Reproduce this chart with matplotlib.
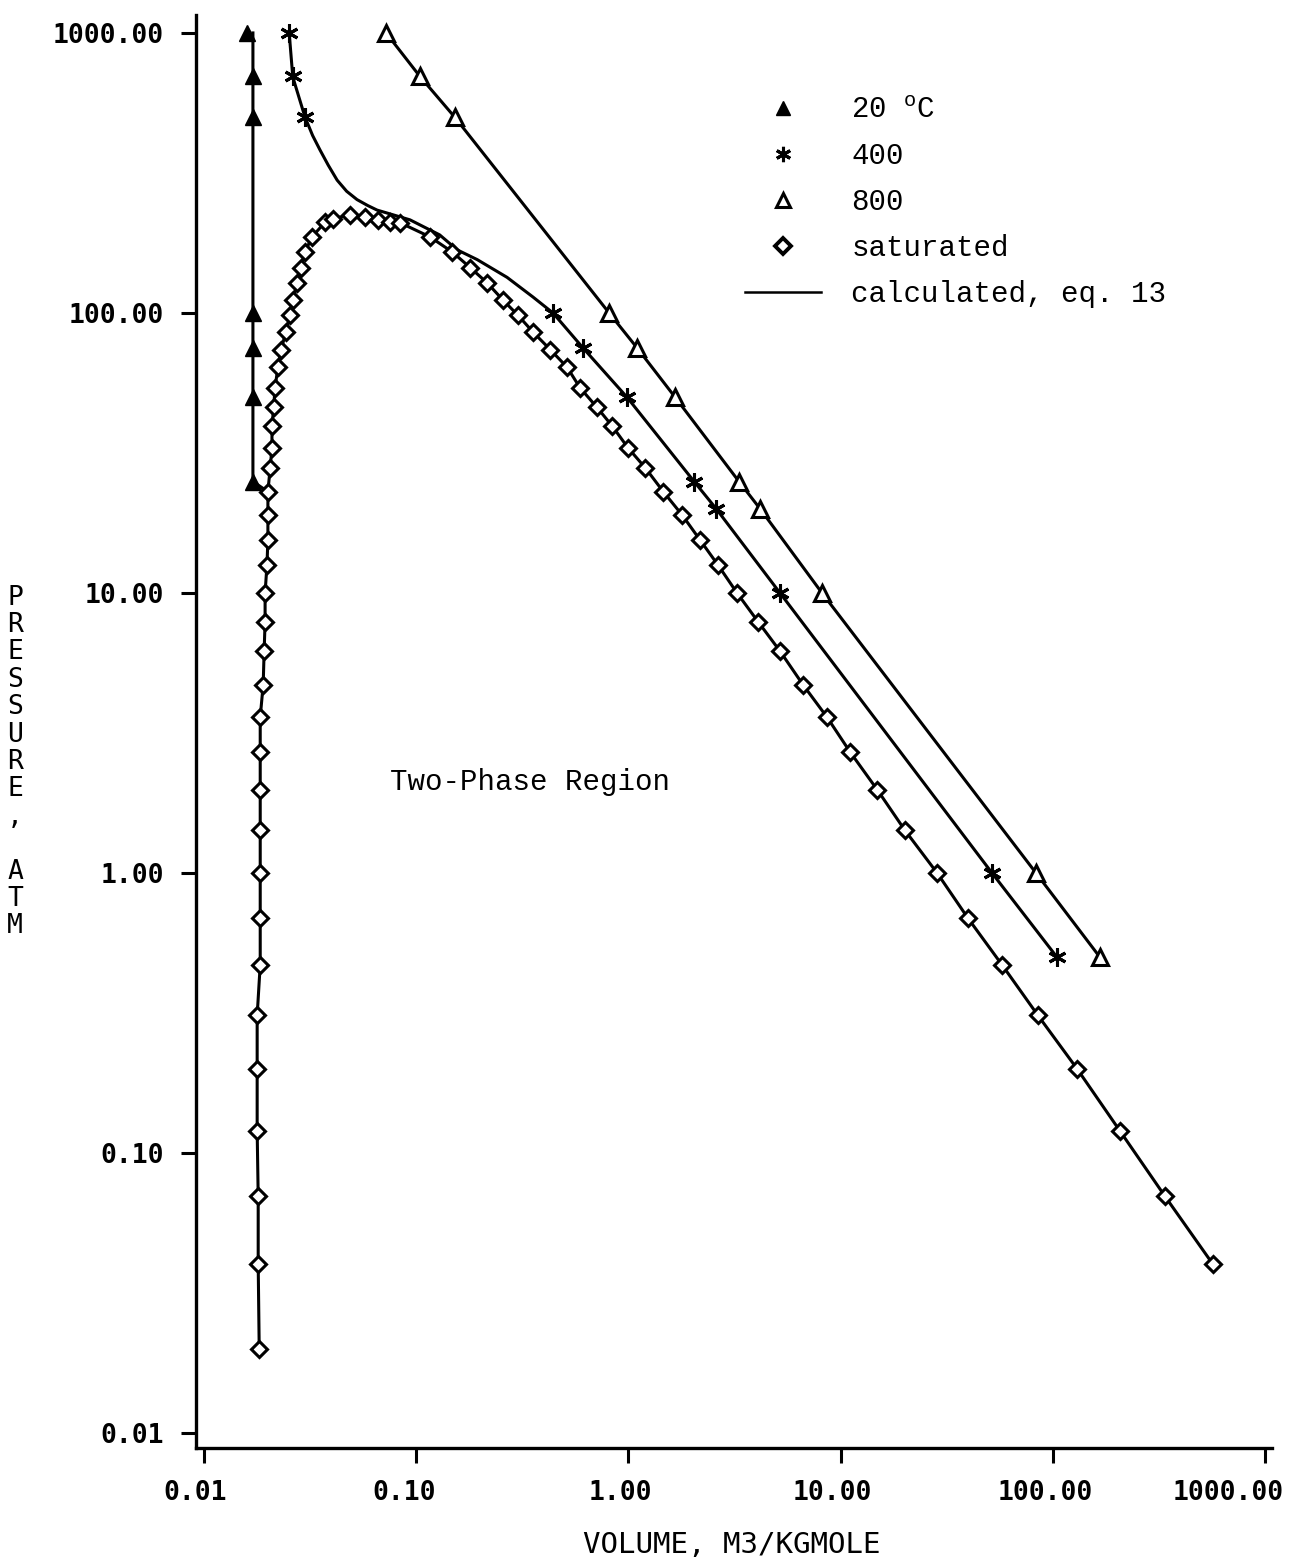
import matplotlib
matplotlib.use("Agg")
import matplotlib.pyplot as plt
from matplotlib.lines import Line2D
from matplotlib.ticker import FixedLocator, NullLocator
from matplotlib.transforms import ScaledTranslation

plt.rcParams['mathtext.fontset'] = 'custom'
plt.rcParams['mathtext.rm'] = 'Liberation Mono'

# 20 C isotherm (filled triangles)
v20 = [0.0160, 0.0170, 0.0170, 0.0170, 0.0170, 0.0170, 0.0170]
p20 = [1000, 700, 500, 100, 75, 50, 25]
v20_calc = [0.0170, 0.0170, 0.0170, 0.0170, 0.0170, 0.0170, 0.0170, 0.0200]
p20_calc = [1000, 700, 500, 100, 75, 50, 25, 23]

# 400 C isotherm (asterisks)
v400 = [0.0252, 0.0262, 0.0299, 0.441, 0.611, 0.985, 2.04, 2.59, 5.18, 51.7, 104.7]
p400 = [1000, 700, 500, 100, 75, 50, 25, 20, 10, 1.0, 0.5]
v400_calc = [0.0252, 0.0262, 0.0299, 0.0325, 0.0352, 0.0385, 0.0424, 0.0470, 0.0526,
             0.0590, 0.0654, 0.0780, 0.0935, 0.129, 0.156, 0.194, 0.268, 0.355, 0.441,
             0.611, 0.985, 2.04, 2.59, 5.18, 51.7, 104.7]
p400_calc = [1000, 696, 501, 430, 382, 337, 298, 272, 254,
             242, 233, 224, 215, 190, 168, 155, 134, 114, 100,
             75, 50, 25, 20, 10, 1.0, 0.5]

# 800 C isotherm (open triangles)
v800 = [0.0721, 0.104, 0.152, 0.811, 1.099, 1.66, 3.32, 4.17, 8.17, 83.3, 166.8]
p800 = [1000, 700, 500, 100, 75, 50, 25, 20, 10, 1.0, 0.5]

# saturated liquid (bottom -> top)
p_liq = [0.02, 0.04, 0.07, 0.12, 0.20, 0.31, 0.47, 0.69, 1.0, 1.42, 1.98, 2.7, 3.6, 4.7,
         6.2, 7.9, 10.0, 12.6, 15.5, 19.0, 23.0, 28.0, 33.0, 39.5, 46.0, 54.0, 64.0,
         74.0, 85.5, 98.0, 111, 128, 145, 165, 187]
v_liq = [0.0182, 0.0180, 0.0180, 0.0178, 0.0178, 0.0178, 0.0184, 0.0184, 0.0184, 0.0184,
         0.0184, 0.0184, 0.0184, 0.0190, 0.0192, 0.0194, 0.0194, 0.0198, 0.0200, 0.0200,
         0.0200, 0.0205, 0.0209, 0.0209, 0.0213, 0.0216, 0.0223, 0.0231, 0.0243, 0.0254,
         0.0263, 0.0274, 0.0286, 0.0299, 0.0323]
# top of the dome
p_top = [211, 217, 224, 220, 215, 211, 210]
v_top = [0.0372, 0.0405, 0.0488, 0.0574, 0.0661, 0.0753, 0.0839]
# saturated vapour (top -> bottom)
p_vap = [187, 165, 145, 128, 111, 98.0, 85.5, 74.0, 64.0, 54.0, 46.0, 39.5, 33.0, 28.0,
         23.0, 19.0, 15.5, 12.6, 10.0, 7.9, 6.2, 4.7, 3.6, 2.7, 1.98, 1.42, 1.0, 0.69,
         0.47, 0.31, 0.20, 0.12, 0.07, 0.04]
v_vap = [0.116, 0.148, 0.180, 0.216, 0.257, 0.302, 0.355, 0.428, 0.514, 0.592, 0.711,
         0.838, 0.995, 1.20, 1.46, 1.79, 2.17, 2.64, 3.25, 4.08, 5.18, 6.65, 8.63, 11.1,
         14.9, 20.1, 28.5, 39.8, 57.6, 85.1, 130, 207, 338, 569]

ticks = [0.01, 0.1, 1, 10, 100, 1000]
x_ticklabels = ["0.01", "0.10", "1.00", "10.00", "100.00", "1000.00"]
y_ticklabels = ["0.01", "0.10", "1.00", "10.00", "100.00", "1000.00"]

fig = plt.figure(figsize=(12.94, 15.62), dpi=100)
ax = fig.add_axes([0.1515, 0.073, 0.8315, 0.9174])

lw = 2.2
ax.plot(v20_calc, p20_calc, color='k', lw=lw, zorder=2)
ax.plot(v400_calc, p400_calc, color='k', lw=lw, zorder=2)
ax.plot(v800, p800, color='k', lw=lw, zorder=2)
ax.plot(v_liq + v_top + v_vap, p_liq + p_top + p_vap, color='k', lw=lw, zorder=2)

ax.plot(v20, p20, ls='none', marker='^', ms=11, color='k', zorder=3)
ax.plot(v400, p400, ls='none', marker=(6, 2, 0), ms=13, mew=2.2, color='k', zorder=3)
ax.plot(v800, p800, ls='none', marker='^', ms=12, mfc='white', mec='k', mew=2.2, zorder=3)
ax.plot(v_liq + v_top + v_vap, p_liq + p_top + p_vap, ls='none', marker='D', ms=8,
        mfc='white', mec='k', mew=2.2, zorder=3)

ax.set_xscale('log')
ax.set_yscale('log')
ax.set_xlim(0.00917, 1079)
ax.set_ylim(0.00884, 1159)
ax.xaxis.set_major_locator(FixedLocator(ticks))
ax.yaxis.set_major_locator(FixedLocator(ticks))
ax.xaxis.set_minor_locator(NullLocator())
ax.yaxis.set_minor_locator(NullLocator())
tick_font = dict(family='DejaVu Sans Mono', weight='bold', size=19)
ax.set_xticklabels(x_ticklabels, **tick_font)
ax.set_yticklabels(y_ticklabels, **tick_font)
ax.tick_params(axis='both', direction='out', length=11, width=2.2, pad=12)

# the last x label sits left of its tick, as in the original plot
for lab, dx in zip(ax.get_xticklabels(), [-9, -12, -8, -8, -8, -37]):
    lab.set_transform(lab.get_transform() + ScaledTranslation(dx / 100, 0, fig.dpi_scale_trans))

for side in ['top', 'right']:
    ax.spines[side].set_visible(False)
for side in ['left', 'bottom']:
    ax.spines[side].set_linewidth(2.4)

ax.set_xlabel("VOLUME, M3/KGMOLE", family='DejaVu Sans Mono', size=21, va='center')
ax.xaxis.set_label_coords(0.498, -0.068)

fig.text(15 / 1294, 1 - 762 / 1562, "P\nR\nE\nS\nS\nU\nR\nE\n,\n\nA\nT\nM",
         family='DejaVu Sans Mono', size=19, ha='center', va='center', linespacing=1.07)

ax.text(0.0752, 2.11, "Two-Phase Region", family='Liberation Mono', size=21, va='center')

handles = [
    Line2D([], [], ls='none', marker='^', ms=10, color='k'),
    Line2D([], [], ls='none', marker=(6, 2, 0), ms=11, mew=2.2, color='k'),
    Line2D([], [], ls='none', marker='^', ms=10, mfc='white', mec='k', mew=2.2),
    Line2D([], [], ls='none', marker='D', ms=8, mfc='white', mec='k', mew=2.8),
    Line2D([], [], color='k', lw=1.8),
]
labels = ["20 $^{\\rm o}$C", "400", "800", "saturated", "calculated, eq. 13"]
ax.legend(handles, labels, loc='upper left', bbox_to_anchor=(745 / 1294, 1 - 96 / 1562),
          bbox_transform=fig.transFigure, frameon=False, handlelength=2.6,
          handletextpad=1.05, labelspacing=0.62, borderpad=0, borderaxespad=0,
          prop=dict(family='Liberation Mono', size=21))

fig.savefig("out.png", dpi=100)
